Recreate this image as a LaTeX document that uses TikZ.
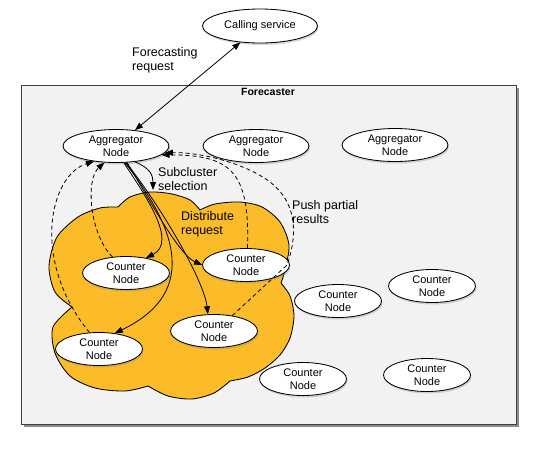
\documentclass[tikz,border=0pt]{standalone}
\usepackage{fontspec}
\setmainfont{Liberation Sans}
\usetikzlibrary{shapes.geometric,arrows.meta,shadows}
\definecolor{cloudc}{RGB}{252,187,40}
\definecolor{panel}{RGB}{242,242,242}
\begin{document}
\begin{tikzpicture}[x=1pt,y=-1pt,
  ell/.style={ellipse, draw=black, fill=white, line width=0.85pt, inner sep=0pt, align=center,
    font=\fontsize{11}{13}\selectfont,
    drop shadow={shadow xshift=1pt, shadow yshift=-2pt, opacity=0.3}},
  agg/.style={ell, minimum width=106pt, minimum height=33pt},
  cnt/.style={ell, minimum width=87pt, minimum height=33pt},
  lbl/.style={anchor=west, align=left, inner sep=0pt, font=\fontsize{12.5}{14.5}\selectfont},
  tipT/.style={-{Triangle[length=8pt,width=6pt]}},
  conn/.style={line width=0.8pt, tipT},
  dconn/.style={conn, dash pattern=on 4pt off 3pt}]
\useasboundingbox (0,0) rectangle (536,456);
\fill[white] (0,0) rectangle (536,456);
% panel
\fill[black!45] (24,88) rectangle (519,427);
\draw[fill=panel, draw=black!75, line width=1pt] (21,85) rectangle (516,424);
% cloud
\draw[fill=cloudc, line width=0.85pt]
  plot[smooth] coordinates {(118,207) (130,197) (150,192) (172,194) (190,200) (200,210)}
  -- plot[smooth] coordinates {(200,210) (215,204) (240,202) (262,207) (280,222) (289,245) (285,270) (281,283)}
  -- plot[smooth] coordinates {(281,283) (290,296) (294,316) (290,338) (280,355) (265,368) (248,377) (230,381)}
  -- plot[smooth] coordinates {(230,381) (214,393) (192,399) (168,396) (148,386)}
  -- plot[smooth] coordinates {(148,386) (125,391) (95,388) (70,376) (55,353) (53,327) (72,307)}
  -- plot[smooth] coordinates {(72,307) (55,292) (49,266) (57,237) (78,217) (100,208) (118,207)}
  -- cycle;
% nodes
\node[ell, minimum width=115pt, minimum height=34pt] (call) at (260,26) {Calling service};
\node[agg] (agg1) at (116,146) {Aggregator\\Node};
\node[agg] (agg2) at (256,146) {Aggregator\\Node};
\node[agg] (agg3) at (395,145) {Aggregator\\Node};
\node[cnt] (cn1) at (126,273) {Counter\\Node};
\node[cnt] (cn2) at (246,265) {Counter\\Node};
\node[cnt] (cn3) at (214,331) {Counter\\Node};
\node[cnt] (cn4) at (99,349) {Counter\\Node};
\node[cnt] (cn5) at (338,301) {Counter\\Node};
\node[cnt] (cn6) at (432,286) {Counter\\Node};
\node[cnt] (cn7) at (303,379) {Counter\\Node};
\node[cnt] (cn8) at (427,375) {Counter\\Node};
% labels
\node[inner sep=0pt, font=\bfseries\fontsize{10.5}{12}\selectfont] (fc) at (268,92) {Forecaster};
\node[lbl] (lfr) at (132,60.5) {Forecasting\\request};
\node[lbl] (lsub) at (158,179) {Subcluster\\selection};
\node[lbl] (ldist) at (181,224.5) {Distribute\\request};
\node[lbl] (lpush) at (292,212) {Push partial\\results};
% connectors
\draw[line width=0.8pt, {Triangle[length=8pt,width=6pt]}-{Triangle[length=8pt,width=6pt]}] (agg1) -- (call);
\coordinate (subsel) at (153,190);
\draw[conn] (agg1.-40) .. controls (150,168) and (153,175) .. (subsel);
\draw[conn] (agg1.-65) .. controls (145,195) and (178,242) .. (cn1.37);
\draw[conn] (agg1.-62) .. controls (170,220) and (205,290) .. (cn4.45);
\draw[conn] (agg1.-59) .. controls (160,205) and (204,280) .. (cn3.110);
\draw[conn] (agg1.-56) .. controls (155,210) and (180,255) .. (cn2.west);
\draw[dconn] (cn4.120) .. controls (30,260) and (50,175) .. (agg1.-145);
\draw[dconn] (cn1.130) .. controls (90,235) and (85,180) .. (agg1.-125);
\draw[dconn] (cn2.85) .. controls (250,170) and (230,155) .. (agg1.-11);
\draw[dconn] (cn3.40) -- (287,265) .. controls (296,240) and (300,205) .. (270,182)
  .. controls (245,163) and (200,152) .. (agg1.-8);
\end{tikzpicture}
\end{document}
